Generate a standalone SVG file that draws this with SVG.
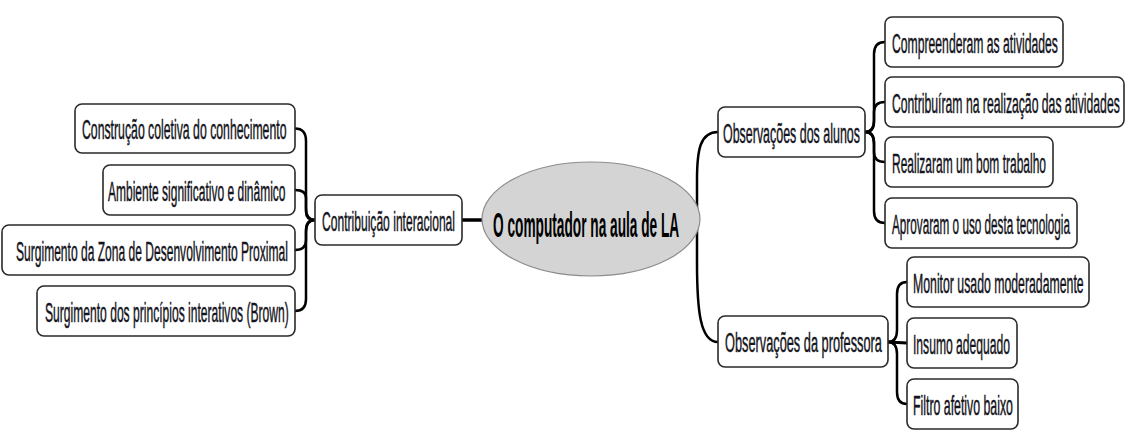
<svg xmlns="http://www.w3.org/2000/svg" width="1126" height="439" viewBox="0 0 1126 439">
<style>
.box{fill:#fff;stroke:#2a2a2a;stroke-width:1.6}
.t{font-family:"Liberation Sans",Arial,sans-serif;font-size:28px;fill:#141420;stroke:#141420;stroke-width:0.5}
.ct{font-family:"Liberation Sans",Arial,sans-serif;font-size:35px;font-weight:bold;fill:#000}
.c{fill:none;stroke:#000;stroke-width:2.5;stroke-linecap:round}
</style>
<rect width="1126" height="439" fill="#fff"/>
<g id="connectors">
<path class="c" d="M462 220 L482 220" style="stroke-width:3.5"/>
<path class="c" d="M315 220 Q306 220 306 208 L306 141 Q306 128.5 295 128.5"/>
<path class="c" d="M315 220 Q306 220 306 212 L306 198 Q306 190 295 190"/>
<path class="c" d="M315 220 Q306 220 306 230 L306 240 Q306 250 295 250"/>
<path class="c" d="M315 220 Q306 220 306 232 L306 299 Q306 311 295 311"/>
<path class="c" d="M718 132 C700 132 697 150 697 180 L697 262 C697 310 700 342 718 342"/>
<path class="c" d="M865 132 Q874 132 874 120 L874 54 Q874 42 885 42"/>
<path class="c" d="M865 132 Q874 132 874 122 L874 112 Q874 102 885 102"/>
<path class="c" d="M865 132 Q874 132 874 142 L874 152 Q874 162 885 162"/>
<path class="c" d="M865 132 Q874 132 874 144 L874 211 Q874 223 885 223"/>
<path class="c" d="M888 342 Q897 342 897 330 L897 294 Q897 282 907 282"/>
<path class="c" d="M888 342 L907 343" style="stroke-width:3"/>
<path class="c" d="M888 342 Q897 342 897 354 L897 392 Q897 404 907 404"/>
</g>
<g id="center">
<ellipse cx="591" cy="219" rx="109" ry="57" fill="#d4d4d4" stroke="#8c8c8c" stroke-width="1.2"/>
<text class="ct" transform="translate(493 237) scale(0.391 1)">O computador na aula de  LA</text>
</g>
<g id="contribuicao">
<rect class="box" x="315" y="195" width="147" height="50" rx="7"/>
<text class="t" transform="translate(322 230.5) scale(0.432 1)">Contribuição interacional</text>
</g>
<g id="l1">
<rect class="box" x="75" y="104" width="220" height="49" rx="7"/>
<text class="t" transform="translate(82 139) scale(0.438 1)">Construção  coletiva do conhecimento</text>
</g>
<g id="l2">
<rect class="box" x="103" y="165" width="192" height="50" rx="7"/>
<text class="t" transform="translate(108 200.5) scale(0.429 1)">Ambiente significativo e dinâmico</text>
</g>
<g id="l3">
<rect class="box" x="2" y="225" width="293" height="50" rx="7"/>
<text class="t" transform="translate(16 260.5) scale(0.4305 1)">Surgimento da Zona de Desenvolvimento Proximal</text>
</g>
<g id="l4">
<rect class="box" x="37" y="286" width="258" height="50" rx="7"/>
<text class="t" transform="translate(45 321.5) scale(0.432 1)">Surgimento dos princípios interativos (Brown)</text>
</g>
<g id="alunos">
<rect class="box" x="718" y="107" width="147" height="50" rx="7"/>
<text class="t" transform="translate(723 142.5) scale(0.4446 1)">Observações dos alunos</text>
</g>
<g id="r1">
<rect class="box" x="885" y="17" width="178" height="50" rx="7"/>
<text class="t" transform="translate(892 52.5) scale(0.4354 1)">Compreenderam as atividades</text>
</g>
<g id="r2">
<rect class="box" x="885" y="77" width="239" height="50" rx="7"/>
<text class="t" transform="translate(892 112.5) scale(0.436 1)">Contribuíram na realização das atividades</text>
</g>
<g id="r3">
<rect class="box" x="885" y="137" width="168" height="50" rx="7"/>
<text class="t" transform="translate(892 172.5) scale(0.4285 1)">Realizaram um bom trabalho</text>
</g>
<g id="r4">
<rect class="box" x="885" y="198" width="192" height="50" rx="7"/>
<text class="t" transform="translate(892 233.5) scale(0.419 1)">Aprovaram o uso desta tecnologia</text>
</g>
<g id="professora">
<rect class="box" x="718" y="316" width="170" height="51" rx="7"/>
<text class="t" transform="translate(725 352) scale(0.4565 1)">Observações da professora</text>
</g>
<g id="r5">
<rect class="box" x="907" y="257" width="182" height="50" rx="7"/>
<text class="t" transform="translate(913 292.5) scale(0.4387 1)">Monitor usado moderadamente</text>
</g>
<g id="r6">
<rect class="box" x="907" y="318" width="110" height="50" rx="7"/>
<text class="t" transform="translate(913 353.5) scale(0.4328 1)">Insumo adequado</text>
</g>
<g id="r7">
<rect class="box" x="907" y="379" width="111" height="50" rx="7"/>
<text class="t" transform="translate(913 414.5) scale(0.44 1)">Filtro afetivo baixo</text>
</g>
</svg>
